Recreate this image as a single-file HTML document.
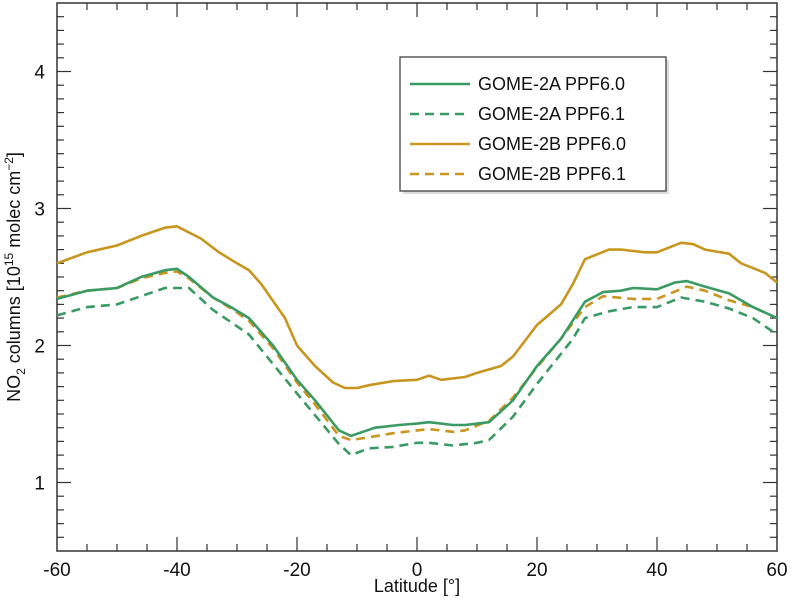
<!DOCTYPE html>
<html><head><meta charset="utf-8"><style>
body{margin:0;background:#fff}
svg text{font-family:"Liberation Sans",sans-serif;fill:#111}
</style></head><body>
<svg id="c" width="792" height="604"></svg>
<script>
const latA60=[-60,-55,-50,-46,-42,-40,-38,-34,-31,-28,-24,-20,-17,-13,-11,-9,-7,-3,0,2,6,8,12,16,20,24,28,31,34,36,40,43,45,48,52,56,60];
const valA60=[2.34,2.40,2.42,2.50,2.55,2.56,2.50,2.35,2.28,2.20,2.00,1.75,1.60,1.38,1.34,1.37,1.40,1.42,1.43,1.44,1.42,1.42,1.44,1.60,1.85,2.05,2.32,2.39,2.40,2.42,2.41,2.46,2.47,2.43,2.38,2.28,2.20];
const latA61=[-60,-55,-50,-42,-38,-34,-28,-20,-13,-11,-8,-4,0,2,6,10,12,16,20,26,28,32,36,40,44,48,52,56,60];
const valA61=[2.22,2.28,2.30,2.42,2.42,2.26,2.08,1.65,1.28,1.20,1.25,1.26,1.29,1.29,1.27,1.29,1.31,1.48,1.72,2.05,2.20,2.25,2.28,2.28,2.35,2.32,2.27,2.20,2.08];
const latB60=[-60,-55,-50,-46,-42,-40,-36,-33,-30,-28,-26,-22,-20,-17,-14,-12,-10,-8,-4,0,2,4,8,10,14,16,20,24,26,28,32,34,38,40,44,46,48,52,54,58,60];
const valB60=[2.60,2.68,2.73,2.80,2.86,2.87,2.78,2.68,2.60,2.55,2.45,2.20,2.00,1.85,1.73,1.69,1.69,1.71,1.74,1.75,1.78,1.75,1.77,1.80,1.85,1.92,2.15,2.30,2.45,2.63,2.70,2.70,2.68,2.68,2.75,2.74,2.70,2.67,2.60,2.53,2.46];
const latB61=[-60,-55,-50,-46,-42,-40,-38,-34,-31,-28,-24,-20,-17,-13,-11,-8,-4,0,2,6,8,12,16,20,24,28,31,36,40,45,48,52,56,60];
const valB61=[2.35,2.40,2.42,2.49,2.53,2.54,2.49,2.35,2.27,2.18,1.98,1.73,1.57,1.34,1.31,1.33,1.36,1.38,1.39,1.37,1.38,1.45,1.62,1.84,2.05,2.28,2.36,2.34,2.34,2.43,2.40,2.33,2.28,2.20];
const xTicks=[-60,-40,-20,0,20,40,60];
const yTicks=[1,2,3,4];
const L=57,R=777,T=3,B=551;
const X=v=>L+(v+60)/120*(R-L);
const Y=v=>B-(v-0.5)/4*(B-T);
const svg=document.getElementById('c');
const NS='http://www.w3.org/2000/svg';
function mk(t,a,p){const e=document.createElementNS(NS,t);for(const k in a)e.setAttribute(k,a[k]);(p||svg).appendChild(e);return e;}
// ticks
for(let v=-55;v<60;v+=5){const big=v%20===0;const h=big?14:7;
 const t1=mk('line',{x1:X(v),x2:X(v),y1:B,y2:B-h,stroke:'#333','stroke-width':1.2});
 
 const t2=mk('line',{x1:X(v),x2:X(v),y1:T,y2:T+h,stroke:'#333','stroke-width':1.2});
 }
for(let i=6;i<45;i++){const v=i/10;const big=i%10===0;const h=big?14:7;
 const t1=mk('line',{x1:L,x2:L+h,y1:Y(v),y2:Y(v),stroke:'#333','stroke-width':1.2});
 
 const t2=mk('line',{x1:R,x2:R-h,y1:Y(v),y2:Y(v),stroke:'#333','stroke-width':1.2});
 }
const fr=mk('rect',{x:L,y:T,width:R-L,height:B-T,fill:'none',stroke:'#333','stroke-width':1.5});

xTicks.forEach(v=>{const t=mk('text',{x:X(v),y:B+25,'text-anchor':'middle','font-size':19});t.textContent=v;
 });
yTicks.forEach(v=>{const t=mk('text',{x:L-12,y:Y(v)+7,'text-anchor':'end','font-size':19});t.textContent=v;
 });
const xt=mk('text',{x:(L+R)/2,y:592,'text-anchor':'middle','font-size':18});xt.textContent='Latitude [°]';

const yt=mk('text',{transform:'translate(20,277) rotate(-90)','text-anchor':'middle','font-size':18});
yt.innerHTML='NO<tspan font-size="12" dy="5">2</tspan><tspan dy="-5"> columns [10</tspan><tspan font-size="12" dy="-7">15</tspan><tspan dy="7"> molec cm</tspan><tspan font-size="12" dy="-7">−2</tspan><tspan dy="7">]</tspan>';

const G='#3a9a64',O='#c8961e';
const series=[[latB60,valB60,O,''],[latA61,valA61,G,'9,6'],[latB61,valB61,O,'9,6'],[latA60,valA60,G,'']];
const names=['series-gome2b-ppf60','series-gome2a-ppf61','series-gome2b-ppf61','series-gome2a-ppf60'];
series.forEach((s,i)=>{const d=s[0].map((la,j)=>(j?'L':'M')+X(la).toFixed(1)+','+Y(s[1][j]).toFixed(1)).join(' ');
 const p=mk('path',{d:d,fill:'none',stroke:s[2],'stroke-width':2.6,'stroke-dasharray':s[3]||'none','stroke-linejoin':'round'});
 });
// legend
const lg=mk('g',{});
mk('rect',{x:403,y:60,width:266,height:134,fill:'#bbb',opacity:0.5},lg);
mk('rect',{x:400,y:57,width:266,height:134,fill:'#fff',stroke:'#333','stroke-width':1.2},lg);
const ent=[['GOME-2A PPF6.0',G,''],['GOME-2A PPF6.1',G,'9,6'],['GOME-2B PPF6.0',O,''],['GOME-2B PPF6.1',O,'9,6']];
ent.forEach((e,i)=>{const y=84+i*30;const g=mk('g',{},lg);
 
 mk('line',{x1:410,x2:470,y1:y,y2:y,stroke:e[1],'stroke-width':2.6,'stroke-dasharray':e[2]||'none'},g);
 const t=mk('text',{x:478,y:y+6,'font-size':18},g);t.textContent=e[0];});
</script>
</body></html>
